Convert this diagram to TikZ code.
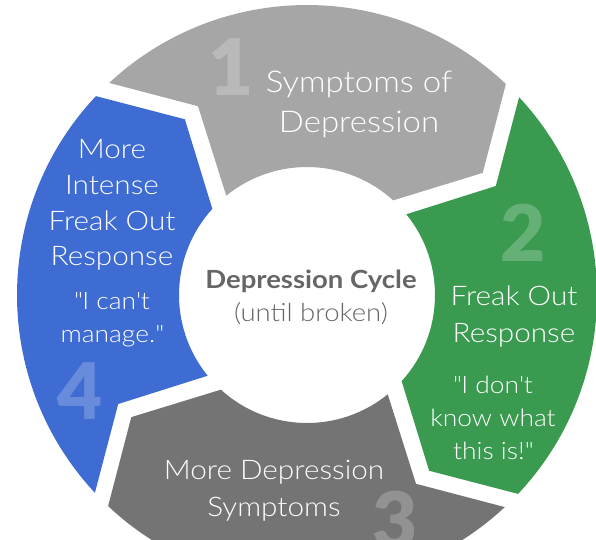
\documentclass[tikz,border=0pt]{standalone}
\usepackage{fontspec}
\setmainfont{Lato Light}[FakeStretch=1.1]
\newfontfamily\hubfont{Lato}[FakeStretch=1.1]
\newfontfamily\numfont{Lato Black}
\usetikzlibrary{calc}

\definecolor{segA}{HTML}{A6A6A6}
\definecolor{segB}{HTML}{3A9A50}
\definecolor{segC}{HTML}{747474}
\definecolor{segD}{HTML}{3E6CD2}
\definecolor{hubtext}{HTML}{666666}

% one chevron-ended piece of the ring; #1 = rotation (deg), #2 = fill
\newcommand\ringpiece[2]{%
  \fill[#2] ({133+#1}:290pt)
    arc[start angle={133+#1}, end angle={46.7+#1}, radius=290pt]
    -- ({34.8+#1}:214pt) -- ({47.7+#1}:128pt)
    arc[start angle={47.7+#1}, end angle={129.1+#1}, radius=128pt]
    -- ({120+#1}:218pt) -- cycle;}

\tikzset{
  seglabel/.style={text=white, anchor=base, inner sep=0pt,
    font=\fontsize{27}{30}\selectfont},
  titlelabel/.style={seglabel, font=\fontsize{30}{34}\selectfont},
  quotelabel/.style={seglabel, font=\fontsize{24}{28}\selectfont},
  bignum/.style={text=white, text opacity=0.22, inner sep=0pt,
    font=\fontsize{78}{78}\selectfont\numfont},
  hubtitle/.style={text=hubtext, anchor=base, inner sep=0pt,
    font=\fontsize{25}{28}\selectfont\hubfont\bfseries},
  hubsub/.style={text=hubtext, anchor=base, inner sep=0pt,
    font=\fontsize{25}{28}\selectfont},
}

\begin{document}
\begin{tikzpicture}
\useasboundingbox (0,0) rectangle (596pt,-539pt);
\fill[white] (0,0) rectangle (596pt,-539pt);
\clip (0,0) rectangle (596pt,-539pt);

% ring pieces, clockwise from the top
\begin{scope}[shift={(307pt,-295pt)}]
  \ringpiece{0}{segA}
  \ringpiece{-90}{segB}
  \ringpiece{-180}{segC}
  \ringpiece{-270}{segD}
\end{scope}

% step numbers
\node[bignum] (n1) at (231pt,-67pt) {1};
\node[bignum] (n2) at (523pt,-233pt) {2};
\node[bignum] (n3) at (395pt,-520pt) {3};
\node[bignum] (n4) at (80pt,-391pt) {4};

% step 1
\node[titlelabel] (a1) at (359pt,-92pt) {Symptoms of};
\node[titlelabel] (a2) at (359pt,-132pt) {Depression};

% step 2
\node[seglabel] (b1) at (514pt,-305pt) {Freak Out};
\node[seglabel] (b2) at (514pt,-342pt) {Response};
\node[quotelabel] (b3) at (493pt,-393pt) {\textquotedbl I don\textquotesingle t};
\node[quotelabel] (b4) at (493pt,-426pt) {know what};
\node[quotelabel] (b5) at (493pt,-459pt) {this is!\textquotedbl};

% step 3
\node[seglabel] (c1) at (274pt,-479pt) {More Depression};
\node[seglabel] (c2) at (274pt,-516pt) {Symptoms};

% step 4
\node[seglabel] (d1) at (112pt,-158pt) {More};
\node[seglabel] (d2) at (112pt,-194pt) {Intense};
\node[seglabel] (d3) at (112pt,-230pt) {Freak Out};
\node[seglabel] (d4) at (112pt,-265pt) {Response};
\node[quotelabel] (d5) at (112pt,-309pt) {\textquotedbl I can\textquotesingle t};
\node[quotelabel] (d6) at (112pt,-342pt) {manage.\textquotedbl};

% hub
\node[hubtitle] (h1) at (311pt,-288pt) {Depression Cycle};
\node[hubsub] (h2) at (311pt,-321pt) {(until broken)};
\end{tikzpicture}
\end{document}
